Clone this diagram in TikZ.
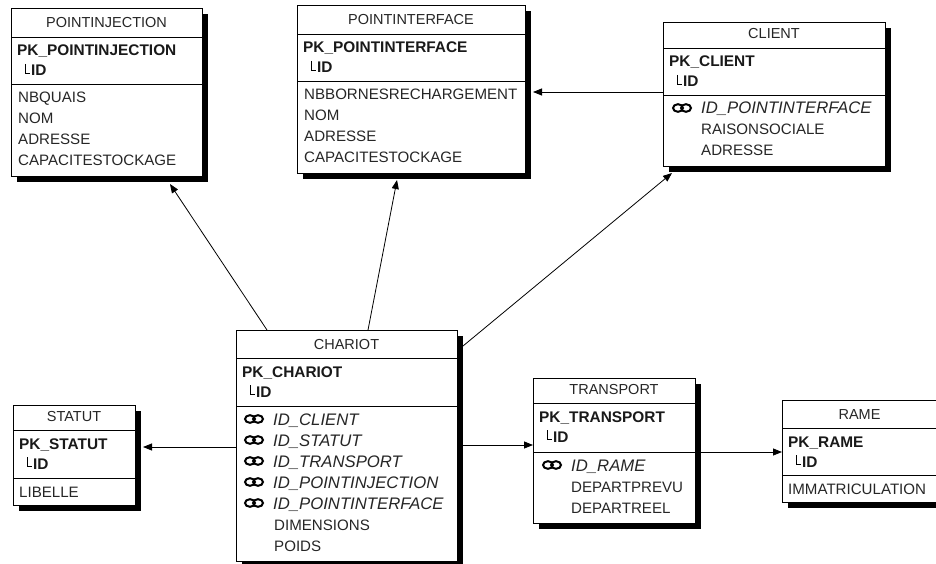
\documentclass[tikz,border=0pt]{standalone}
\usepackage{fontspec}
\setmainfont{Liberation Sans}
\usetikzlibrary{arrows.meta,calc}
\tikzset{
 ebox/.style={draw=black, line width=0.8pt, fill=white, inner sep=0pt, outer sep=0pt},
 sepline/.style={draw=black, line width=0.8pt},
 ttl/.style={inner sep=0pt, font=\fontsize{14.5}{17}\selectfont, anchor=base, text=black!85},
 pkt/.style={inner sep=0pt, font=\fontsize{15.4}{18}\selectfont\bfseries, anchor=base west, text=black!90},
 fld/.style={inner sep=0pt, font=\fontsize{15.1}{18}\selectfont, anchor=base west, text=black!85},
 fkt/.style={inner sep=0pt, font=\fontsize{16.7}{19}\selectfont\itshape, anchor=base west, text=black!85},
 arr/.style={draw=black, line width=0.8pt, -{Triangle[length=9pt,width=7pt]}},
 keyln/.style={draw=black, line width=2pt},
}
\newcommand\tbl[8]{%
 \fill[black] (#2+6,#3+6) rectangle (#2+#4+6,#7+6);
 \node[ebox, minimum width=#4, minimum height=#7-#3, anchor=north west] (#1) at (#2,#3) {};
 \draw[sepline] (#2,#5) -- (#2+#4,#5);
 \draw[sepline] (#2,#6) -- (#2+#4,#6);
 \node[ttl] (#1-title) at (#2+#4/2,#5-9) {#8};
}
\newcommand\pkey[4]{%
 \node[pkt] (#1-pk) at (#2+6,#3+19) {#4};
 \draw[line width=0.7pt] (#2+14,#3+27) |- (#2+19,#3+36);
 \node[pkt] (#1-id) at (#2+20,#3+39) {ID};
}
\newcommand\keyicon[2]{%
 \draw[keyln] (#1-4,#2) ellipse (5 and 3.8);
 \draw[keyln] (#1+4,#2) ellipse (5 and 3.8);
}
\begin{document}
\begin{tikzpicture}[x=1pt,y=-1pt]
\useasboundingbox (0,0) rectangle (936,564);
\fill[white] (0,0) rectangle (936,564);

% POINTINJECTION
\tbl{pinj}{11}{8}{191}{37}{84}{176}{POINTINJECTION}
\pkey{pinj}{11}{37}{PK\_POINTINJECTION}
\node[fld] (pinj-r1) at (18,103) {NBQUAIS};
\node[fld] (pinj-r2) at (18,124) {NOM};
\node[fld] (pinj-r3) at (18,145) {ADRESSE};
\node[fld] (pinj-r4) at (18,166) {CAPACITESTOCKAGE};

% POINTINTERFACE
\tbl{pint}{297}{5}{228}{34}{81}{173}{POINTINTERFACE}
\pkey{pint}{297}{34}{PK\_POINTINTERFACE}
\node[fld] (pint-r1) at (304,100) {NBBORNESRECHARGEMENT};
\node[fld] (pint-r2) at (304,121) {NOM};
\node[fld] (pint-r3) at (304,142) {ADRESSE};
\node[fld] (pint-r4) at (304,163) {CAPACITESTOCKAGE};

% CLIENT
\tbl{client}{663}{22}{222}{48}{95}{166}{CLIENT}
\pkey{client}{663}{48}{PK\_CLIENT}
\keyicon{682}{108}
\node[fkt] (client-r1) at (701,114) {ID\_POINTINTERFACE};
\node[fld] (client-r2) at (701,135) {RAISONSOCIALE};
\node[fld] (client-r3) at (701,156) {ADRESSE};

% CHARIOT
\tbl{chariot}{236}{330}{221}{358}{406}{561}{CHARIOT}
\pkey{chariot}{236}{358}{PK\_CHARIOT}
\keyicon{254}{419}
\keyicon{254}{440}
\keyicon{254}{461}
\keyicon{254}{482}
\keyicon{254}{503}
\node[fkt] (chariot-r1) at (273,425) {ID\_CLIENT};
\node[fkt] (chariot-r2) at (273,446) {ID\_STATUT};
\node[fkt] (chariot-r3) at (273,467) {ID\_TRANSPORT};
\node[fkt] (chariot-r4) at (273,488) {ID\_POINTINJECTION};
\node[fkt] (chariot-r5) at (273,509) {ID\_POINTINTERFACE};
\node[fld] (chariot-r6) at (274,530) {DIMENSIONS};
\node[fld] (chariot-r7) at (274,551) {POIDS};

% STATUT
\tbl{statut}{13}{405}{122}{430}{478}{505}{STATUT}
\pkey{statut}{13}{430}{PK\_STATUT}
\node[fld] (statut-r1) at (19,497) {LIBELLE};

% TRANSPORT
\tbl{transport}{533}{378}{162}{403}{452}{523}{TRANSPORT}
\pkey{transport}{533}{403}{PK\_TRANSPORT}
\keyicon{552}{465}
\node[fkt] (transport-r1) at (571,471) {ID\_RAME};
\node[fld] (transport-r2) at (571,492) {DEPARTPREVU};
\node[fld] (transport-r3) at (571,513) {DEPARTREEL};

% RAME
\tbl{rame}{782}{400}{155}{428}{475}{502}{RAME}
\pkey{rame}{782}{428}{PK\_RAME}
\node[fld] (rame-r1) at (788,494) {IMMATRICULATION};

% connectors
\draw[arr] ($(chariot.north west)+(31,0)$) -- ($(pinj.south west)+(159,8)$);
\draw[arr] ($(chariot.north west)+(132,0)$) -- ($(pint.south west)+(100,7)$);
\draw[arr] ($(chariot.north east)+(6,16)$) -- ($(client.south west)+(9,7)$);
\draw[arr] ($(client.north west)+(0,70)$) -- ($(pint.north east)+(8,87)$);
\draw[arr] ($(chariot.north west)+(0,117)$) -- ($(statut.north east)+(8,42)$);
\draw[arr] ($(chariot.north east)+(6,115)$) -- ($(transport.north west)+(0,67)$);
\draw[arr] ($(transport.north east)+(6,74)$) -- ($(rame.north west)+(0,52)$);
\end{tikzpicture}
\end{document}
